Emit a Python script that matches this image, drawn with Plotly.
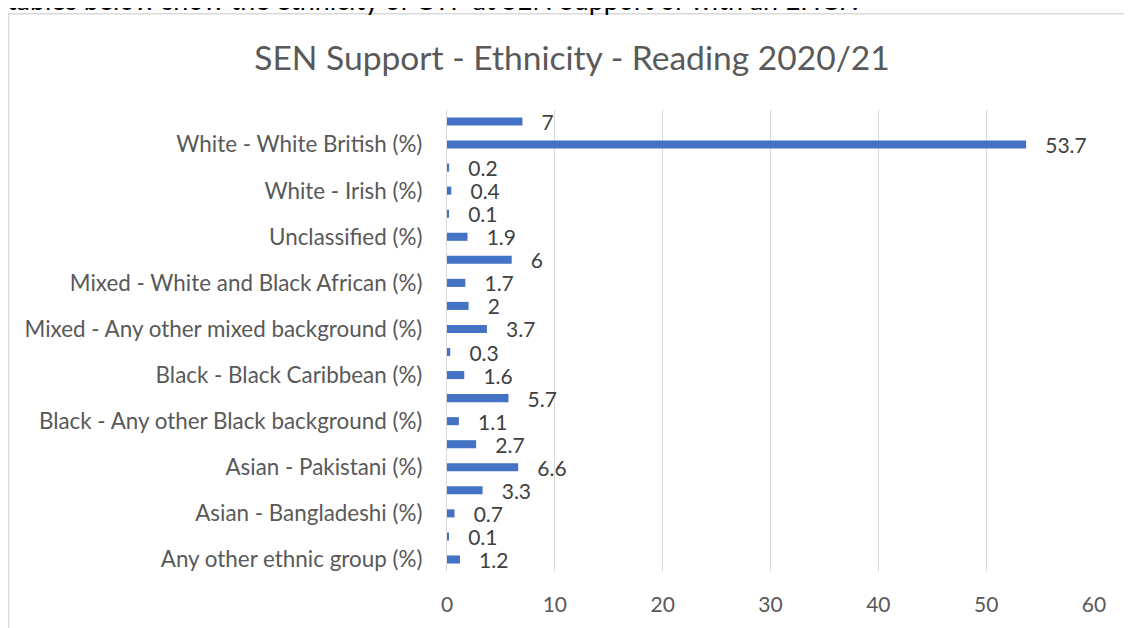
import plotly.graph_objects as go

# Categories listed top-to-bottom as they appear in the chart
categories = [
    "White - Any other White background (%)",
    "White - White British (%)",
    "White - Traveller of Irish heritage (%)",
    "White - Irish (%)",
    "White - Gypsy/Roma (%)",
    "Unclassified (%)",
    "Mixed - White and Black Caribbean (%)",
    "Mixed - White and Black African (%)",
    "Mixed - White and Asian (%)",
    "Mixed - Any other mixed background (%)",
    "Chinese (%)",
    "Black - Black Caribbean (%)",
    "Black - Black African (%)",
    "Black - Any other Black background (%)",
    "Asian - Any other Asian background (%)",
    "Asian - Pakistani (%)",
    "Asian - Indian (%)",
    "Asian - Bangladeshi (%)",
    "Information not obtained (%)",
    "Any other ethnic group (%)",
]
values = [7, 53.7, 0.2, 0.4, 0.1, 1.9, 6, 1.7, 2, 3.7,
          0.3, 1.6, 5.7, 1.1, 2.7, 6.6, 3.3, 0.7, 0.1, 1.2]

# Only every other category label is displayed on the axis
shown_labels = [
    "White - White British (%)",
    "White - Irish (%)",
    "Unclassified (%)",
    "Mixed - White and Black African (%)",
    "Mixed - Any other mixed background (%)",
    "Black - Black Caribbean (%)",
    "Black - Any other Black background (%)",
    "Asian - Pakistani (%)",
    "Asian - Bangladeshi (%)",
    "Any other ethnic group (%)",
]
x_ticks = [0, 10, 20, 30, 40, 50, 60]

title_text = "SEN Support - Ethnicity - Reading 2020/21"
page_text = "tables below show the ethnicity of CYP at SEN Support or with an EHCP."

# The page body adds an 8px offset; the figure is sized/placed to compensate.
OFF = 8
W, H = 1132 - OFF, 628 - OFF
ML, MR, MT, MB = 447 - OFF, 38, 110 - OFF, 53
PW, PH = W - ML - MR, H - MT - MB
FONT = "Lato"


def px_x(p):  # screen pixel -> paper x
    return (p - OFF - ML) / PW


def px_y(p):  # screen pixel -> paper y
    return (H - MB - (p - OFF)) / PH


fig = go.Figure()
fig.add_trace(go.Bar(
    x=values,
    y=categories,
    orientation="h",
    marker=dict(color="#4472C4", line=dict(width=0)),
    texttemplate="\u00a0\u00a0\u00a0%{x}",
    textposition="outside",
    constraintext="none",
    cliponaxis=False,
    textfont=dict(family=FONT, size=21, color="#404040"),
    hoverinfo="skip",
))

fig.update_layout(
    width=W, height=H, autosize=False,
    margin=dict(l=ML, r=MR, t=MT, b=MB, pad=0),
    paper_bgcolor="white", plot_bgcolor="white",
    bargap=0.65,
    showlegend=False,
    font=dict(family=FONT, color="#595959"),
    title=dict(
        text=title_text,
        font=dict(family=FONT, size=33.6, color="#595959"),
        x=(572 - OFF) / W, xref="container", xanchor="center",
        y=1 - (58 - OFF) / H, yref="container", yanchor="middle",
    ),
    xaxis=dict(
        range=[0, 60], tickvals=x_ticks,
        showgrid=True, gridcolor="#d9d9d9", gridwidth=1.3,
        zeroline=False, showline=False, ticks="",
        tickfont=dict(family=FONT, size=21, color="#595959"),
        ticklabelstandoff=19,
    ),
    yaxis=dict(
        type="category", categoryorder="array", categoryarray=categories,
        autorange="reversed",
        tickvals=shown_labels, ticktext=shown_labels,
        showgrid=False, zeroline=False,
        showline=True, linecolor="#d9d9d9", linewidth=1.3,
        ticks="",
        tickfont=dict(family=FONT, size=22.4, color="#595959"),
        ticklabelstandoff=19,
    ),
    shapes=[dict(
        type="rect", xref="paper", yref="paper",
        x0=px_x(8.5), x1=px_x(1145), y0=px_y(645), y1=px_y(13),
        line=dict(color="#d9d9d9", width=1.5), fillcolor="rgba(0,0,0,0)",
        layer="below",
    )],
    annotations=[dict(
        text=page_text, showarrow=False,
        xref="paper", yref="paper",
        x=px_x(5), xanchor="left",
        y=px_y(17), yanchor="bottom",
        font=dict(family=FONT, size=26.8, color="black"),
    )],
)

fig.write_html("out.html")
